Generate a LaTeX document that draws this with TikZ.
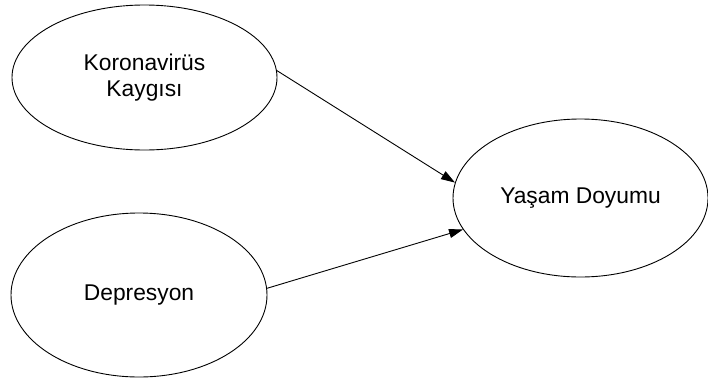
\documentclass[tikz,border=0pt]{standalone}
\usepackage{fontspec}
\setmainfont{Liberation Sans}
\usetikzlibrary{shapes.geometric,arrows.meta}
\tikzset{
  latent/.style={draw, ellipse, line width=0.9pt, inner sep=0pt, align=center,
    font=\fontsize{22.8}{26}\selectfont},
  path/.style={-{Triangle[length=14pt,width=9pt]}, line width=0.9pt}
}
\begin{document}
\begin{tikzpicture}[x=1pt,y=-1pt]
  \useasboundingbox (0,0) rectangle (708,383);
  \node[latent, minimum width=265pt, minimum height=145pt] (K) at (144.5,77.5) {Koronavirüs\\Kaygısı};
  \node[latent, minimum width=256pt, minimum height=164pt] (D) at (139,295) {Depresyon};
  \node[latent, minimum width=255pt, minimum height=158pt] (Y) at (580.5,198) {Yaşam Doyumu};
  \draw[path] (K.3) -- (Y.173);
  \draw[path] (D.3) -- (Y.195);
\end{tikzpicture}
\end{document}
